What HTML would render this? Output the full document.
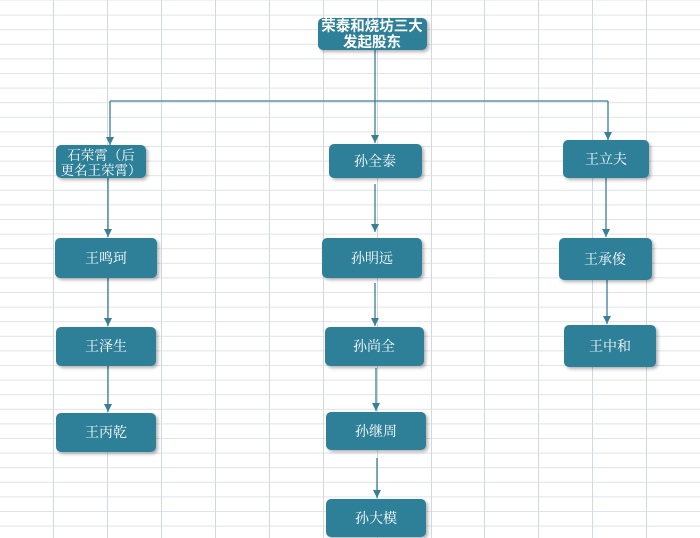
<!DOCTYPE html>
<html><head><meta charset="utf-8"><style>
html,body{margin:0;padding:0;background:#fff}
svg{display:block}
text{font-family:"Liberation Serif","Noto Serif CJK SC","Noto Sans CJK SC",serif;font-size:14px;fill:#fff;text-anchor:middle}
.b{font-family:"Liberation Sans","Noto Sans CJK SC",sans-serif;font-weight:bold;font-size:14.5px}
</style></head><body>
<svg width="700" height="538" viewBox="0 0 700 538" xmlns="http://www.w3.org/2000/svg">
<defs>
<pattern id="g" x="0" y="0" width="54" height="14.6" patternUnits="userSpaceOnUse">
<path d="M0 0.5H54" stroke="#dfe3e8" stroke-width="1"/>
</pattern>
<marker id="a" markerWidth="8" markerHeight="8" refX="8" refY="4" orient="auto" markerUnits="userSpaceOnUse">
<path d="M0 0L8 4L0 8Z" fill="#3a7f95"/>
</marker>
<filter id="s" x="-10%" y="-10%" width="130%" height="140%"><feDropShadow dx="2" dy="2" stdDeviation="1.5" flood-color="#000" flood-opacity="0.3"/></filter>
</defs>
<rect width="700" height="538" fill="#fff"/>
<rect x="0" y="0.5" width="700" height="538" fill="url(#g)"/>
<g stroke="#d3d8de" stroke-width="1">
<path d="M53.5 0V538M107.5 0V538M161.5 0V538M215.5 0V538M269.5 0V538M323.5 0V538M377.5 0V538M431.5 0V538M484.5 0V538M538.5 0V538M592.5 0V538M646.5 0V538"/>
</g>
<g stroke="#3a7f95" stroke-width="1.3" fill="none">
<path d="M375 50V143" marker-end="url(#a)"/>
<path d="M110 101H608"/>
<path d="M110 101V145" marker-end="url(#a)"/>
<path d="M608 101V140" marker-end="url(#a)"/>
<path d="M108 178V237" marker-end="url(#a)"/>
<path d="M108 278V326" marker-end="url(#a)"/>
<path d="M108 366V412" marker-end="url(#a)"/>
<path d="M375 184V232" marker-end="url(#a)"/>
<path d="M375 283V326" marker-end="url(#a)"/>
<path d="M376 368V411" marker-end="url(#a)"/>
<path d="M377 458V498" marker-end="url(#a)"/>
<path d="M606 178V237" marker-end="url(#a)"/>
<path d="M607 280V324" marker-end="url(#a)"/>
</g>
<g fill="#2e7f98" filter="url(#s)">
<rect x="318" y="18" width="109" height="32" rx="5"/>
<rect x="56" y="145" width="90" height="33" rx="5"/>
<rect x="329" y="144" width="93" height="34" rx="5"/>
<rect x="563" y="140" width="86" height="38" rx="5"/>
<rect x="55" y="238" width="102" height="40" rx="5"/>
<rect x="322" y="238" width="100" height="40" rx="5"/>
<rect x="559" y="238" width="93" height="42" rx="5"/>
<rect x="56" y="327" width="100" height="39" rx="5"/>
<rect x="325" y="327" width="99" height="39" rx="5"/>
<rect x="564" y="325" width="92" height="42" rx="5"/>
<rect x="56" y="413" width="100" height="39" rx="5"/>
<rect x="326" y="412" width="100" height="38" rx="5"/>
<rect x="326" y="499" width="100" height="38" rx="5"/>
</g>
<text class="b" x="372" y="31">荣泰和烧坊三大</text>
<text class="b" x="372" y="47">发起股东</text>
<text x="101" y="160" style="font-size:13.5px">石荣霄（后</text>
<text x="101" y="175" style="font-size:13.5px">更名王荣霄）</text>
<text x="375" y="166">孙全泰</text>
<text x="606" y="164">王立夫</text>
<text x="106" y="263">王鸣珂</text>
<text x="372" y="263">孙明远</text>
<text x="605" y="264">王承俊</text>
<text x="106" y="351">王泽生</text>
<text x="374" y="351">孙尚全</text>
<text x="610" y="351">王中和</text>
<text x="106" y="437">王丙乾</text>
<text x="376" y="436">孙继周</text>
<text x="376" y="523">孙大模</text>
</svg>
</body></html>
